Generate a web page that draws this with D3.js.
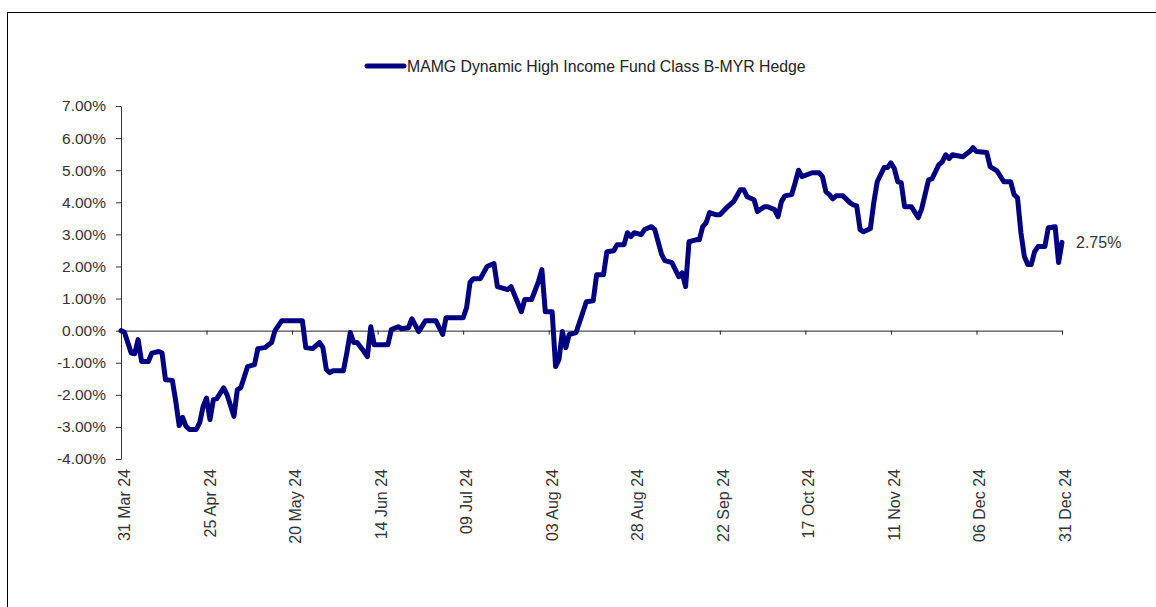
<!DOCTYPE html>
<html lang="en">
<head>
    <meta charset="UTF-8">
    <title>MAMG Dynamic High Income Fund Class B-MYR Hedge</title>
    <script src="https://d3js.org/d3.v7.min.js"></script>
    <style>
        body { margin: 0; background: #fff; font-family: Arial, "Liberation Sans", sans-serif; }
        .tick-label { font-size: 16px; fill: #333; }
        .y-label { font-size: 15.5px; fill: #333; }
        .legend-text { font-size: 15.8px; fill: #222; }
    </style>
</head>
<body>
<svg width="1156" height="607"></svg>
<script>
    // Series: cumulative return (%) by date
    const seriesName = "MAMG Dynamic High Income Fund Class B-MYR Hedge";
    const dates = [
      "2024-03-31","2024-04-01","2024-04-03","2024-04-04","2024-04-05","2024-04-06","2024-04-08","2024-04-09",
      "2024-04-11","2024-04-12","2024-04-13","2024-04-15","2024-04-16","2024-04-17","2024-04-18","2024-04-19",
      "2024-04-20","2024-04-22","2024-04-23","2024-04-24","2024-04-25","2024-04-26","2024-04-27","2024-04-28",
      "2024-04-30","2024-05-01","2024-05-03","2024-05-04","2024-05-05","2024-05-07","2024-05-09","2024-05-10",
      "2024-05-12","2024-05-14","2024-05-15","2024-05-17","2024-05-23","2024-05-24","2024-05-26","2024-05-28",
      "2024-05-29","2024-05-30","2024-05-31","2024-06-01","2024-06-04","2024-06-05","2024-06-06","2024-06-07",
      "2024-06-08","2024-06-10","2024-06-11","2024-06-12","2024-06-13","2024-06-17","2024-06-18","2024-06-20",
      "2024-06-21","2024-06-23","2024-06-24","2024-06-26","2024-06-28","2024-07-01","2024-07-03","2024-07-04",
      "2024-07-09","2024-07-10","2024-07-11","2024-07-12","2024-07-14","2024-07-16","2024-07-18","2024-07-19",
      "2024-07-22","2024-07-23","2024-07-26","2024-07-27","2024-07-29","2024-07-31","2024-08-01","2024-08-02",
      "2024-08-04","2024-08-05","2024-08-06","2024-08-07","2024-08-08","2024-08-09","2024-08-11","2024-08-14",
      "2024-08-16","2024-08-17","2024-08-19","2024-08-20","2024-08-22","2024-08-23","2024-08-25","2024-08-26",
      "2024-08-27","2024-08-28","2024-08-30","2024-08-31","2024-09-02","2024-09-03","2024-09-05","2024-09-06",
      "2024-09-08","2024-09-09","2024-09-10","2024-09-11","2024-09-12","2024-09-13","2024-09-15","2024-09-16",
      "2024-09-17","2024-09-18","2024-09-19","2024-09-21","2024-09-22","2024-09-24","2024-09-26","2024-09-28",
      "2024-09-29","2024-09-30","2024-10-02","2024-10-03","2024-10-05","2024-10-06","2024-10-08","2024-10-09",
      "2024-10-10","2024-10-11","2024-10-13","2024-10-14","2024-10-15","2024-10-16","2024-10-19","2024-10-21",
      "2024-10-22","2024-10-23","2024-10-24","2024-10-25","2024-10-26","2024-10-28","2024-10-30","2024-10-31",
      "2024-11-01","2024-11-02","2024-11-03","2024-11-05","2024-11-06","2024-11-07","2024-11-09","2024-11-10",
      "2024-11-11","2024-11-12","2024-11-13","2024-11-14","2024-11-15","2024-11-17","2024-11-19","2024-11-20",
      "2024-11-22","2024-11-23","2024-11-25","2024-11-26","2024-11-27","2024-11-28","2024-11-29","2024-12-02",
      "2024-12-04","2024-12-05","2024-12-06","2024-12-09","2024-12-10","2024-12-12","2024-12-14","2024-12-16",
      "2024-12-17","2024-12-18","2024-12-19","2024-12-20","2024-12-21","2024-12-22","2024-12-23","2024-12-24",
      "2024-12-26","2024-12-27","2024-12-29","2024-12-30","2024-12-31"
    ];
    const returns = [
      0.00,-0.05,-0.70,-0.72,-0.28,-0.96,-0.96,-0.70,
      -0.65,-0.70,-1.53,-1.55,-2.20,-2.96,-2.70,-2.98,
      -3.08,-3.08,-2.87,-2.36,-2.10,-2.77,-2.15,-2.12,
      -1.78,-2.00,-2.67,-1.84,-1.78,-1.12,-1.06,-0.56,
      -0.53,-0.37,0.00,0.31,0.31,-0.53,-0.56,-0.37,
      -0.53,-1.21,-1.31,-1.25,-1.25,-0.69,-0.06,-0.37,
      -0.37,-0.65,-0.81,0.12,-0.44,-0.44,0.03,0.12,
      0.06,0.09,0.37,-0.03,0.31,0.31,-0.12,0.40,
      0.40,0.72,1.50,1.62,1.62,2.00,2.09,1.37,
      1.28,1.37,0.59,0.97,0.97,1.53,1.90,0.59,
      0.59,-1.12,-0.90,-0.03,-0.53,-0.12,-0.06,0.90,
      0.93,1.74,1.74,2.46,2.49,2.68,2.68,3.05,
      2.93,3.05,2.99,3.15,3.24,3.15,2.37,2.18,
      2.12,1.90,1.68,1.80,1.37,2.77,2.83,2.83,
      3.24,3.36,3.68,3.61,3.61,3.83,4.02,4.39,
      4.39,4.17,4.08,3.71,3.86,3.86,3.77,3.55,
      4.02,4.20,4.24,4.60,5.00,4.80,4.92,4.92,
      4.80,4.33,4.24,4.11,4.20,4.20,3.99,3.92,
      3.89,3.15,3.08,3.18,3.99,4.64,5.08,5.08,
      5.23,5.05,4.64,4.61,3.86,3.86,3.52,3.80,
      4.70,4.73,5.17,5.26,5.48,5.36,5.48,5.42,
      5.58,5.70,5.58,5.55,5.11,4.98,4.64,4.64,
      4.24,4.14,3.05,2.31,2.06,2.06,2.46,2.62,
      2.62,3.21,3.24,2.12,2.75
    ];
    const xTickDates = ["2024-03-31","2024-04-25","2024-05-20","2024-06-14","2024-07-09","2024-08-03",
                        "2024-08-28","2024-09-22","2024-10-17","2024-11-11","2024-12-06","2024-12-31"];
    const yTicks = [7, 6, 5, 4, 3, 2, 1, 0, -1, -2, -3, -4];
    const lastLabel = "2.75%";

    const parse = d3.timeParse("%Y-%m-%d");
    const data = dates.map((d, i) => ({ date: parse(d), value: returns[i] }));

    const svg = d3.select("svg");
    const plot = { left: 121, right: 1062, top: 106, bottom: 459 };

    // Outer frame
    svg.append("rect")
        .attr("x", 7.5).attr("y", 12.5)
        .attr("width", 1200).attr("height", 700)
        .attr("fill", "none").attr("stroke", "#000").attr("stroke-width", 1);

    const x = d3.scaleTime()
        .domain([parse(xTickDates[0]), parse(xTickDates[xTickDates.length - 1])])
        .range([plot.left, plot.right]);
    const y = d3.scaleLinear().domain([-4, 7]).range([plot.bottom, plot.top]);

    // Y axis
    const yAxis = svg.append("g")
        .attr("transform", `translate(${plot.left},0)`)
        .call(d3.axisLeft(y).tickValues(yTicks).tickSize(5).tickSizeOuter(0)
            .tickFormat(d => d.toFixed(2) + "%"));
    yAxis.select(".domain").attr("stroke", "#333");
    yAxis.selectAll(".tick line").attr("stroke", "#333");
    yAxis.selectAll(".tick text")
        .attr("class", "y-label")
        .attr("x", -15)
        .attr("font-size", null)
        .attr("font-family", null);

    // X axis on the zero line
    const xAxis = svg.append("g")
        .attr("transform", `translate(0,${y(0)})`)
        .call(d3.axisBottom(x).tickValues(xTickDates.map(parse)).tickSize(4).tickSizeOuter(0)
            .tickFormat(() => ""));
    xAxis.select(".domain").attr("stroke", "#222");
    xAxis.selectAll(".tick line").attr("stroke", "#222");

    // Rotated date labels below the plot
    const fmt = d3.timeFormat("%d %b %y");
    svg.append("g").selectAll("text")
        .data(xTickDates.map(parse))
        .join("text")
        .attr("class", "tick-label")
        .attr("transform", d => `translate(${x(d) + 9},${plot.bottom + 10}) rotate(-90)`)
        .attr("text-anchor", "end")
        .text(d => fmt(d));

    // Series line
    const line = d3.line().x(d => x(d.date)).y(d => y(d.value));
    svg.append("path")
        .datum(data)
        .attr("fill", "none")
        .attr("stroke", "#000080")
        .attr("stroke-width", 5)
        .attr("stroke-linejoin", "round")
        .attr("stroke-linecap", "round")
        .attr("d", line);

    // Last value label
    const last = data[data.length - 1];
    svg.append("text")
        .attr("class", "tick-label")
        .attr("x", x(last.date) + 14)
        .attr("y", y(last.value) + 6)
        .text(lastLabel);

    // Legend
    svg.append("line")
        .attr("x1", 367).attr("x2", 404)
        .attr("y1", 66).attr("y2", 66)
        .attr("stroke", "#000080").attr("stroke-width", 5)
        .attr("stroke-linecap", "round");
    svg.append("text")
        .attr("class", "legend-text")
        .attr("x", 407).attr("y", 71.5)
        .text(seriesName);
</script>
</body>
</html>
